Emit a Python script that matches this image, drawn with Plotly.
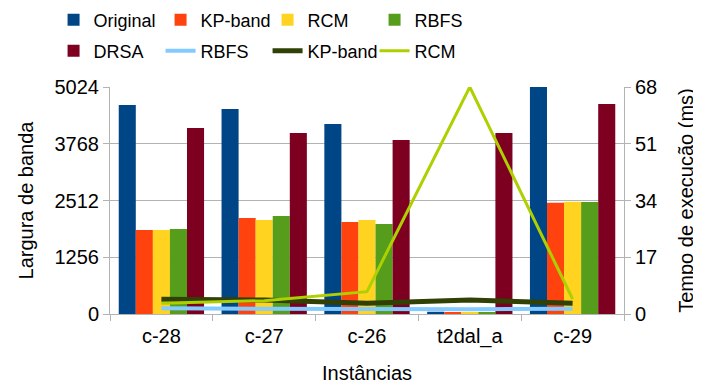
import plotly.graph_objects as go

categories = ["c-28", "c-27", "c-26", "t2dal_a", "c-29"]

bw_original = [4625, 4537, 4205, 50, 5024]
bw_kpband = [1859, 2124, 2036, 45, 2463]
bw_rcm = [1859, 2080, 2080, 45, 2485]
bw_rbfs = [1881, 2169, 1992, 45, 2478]
bw_drsa = [4116, 4006, 3851, 4006, 4647]

time_rbfs = [1.7, 1.6, 1.2, 1.4, 1.6]
time_kpband = [4.4, 4.2, 3.2, 4.2, 3.2]
time_rcm = [3.2, 4.0, 6.7, 68, 4.5]

y1_ticks = [0, 1256, 2512, 3768, 5024]
y2_ticks = [0, 17, 34, 51, 68]

FONT = "Liberation Sans, Arial, sans-serif"
fig = go.Figure()

bar_series = [
    ("Original", bw_original, "#004586", "legend"),
    ("KP-band", bw_kpband, "#ff420e", "legend"),
    ("RCM", bw_rcm, "#ffd320", "legend"),
    ("RBFS", bw_rbfs, "#579d1c", "legend"),
    ("DRSA", bw_drsa, "#7e0021", "legend2"),
]
for name, vals, col, lg in bar_series:
    fig.add_trace(go.Bar(x=categories, y=vals, name=name, marker=dict(color=col, line=dict(width=0)),
                         yaxis="y", legend=lg))

line_series = [
    ("RBFS", time_rbfs, "#83caff", 4),
    ("KP-band", time_kpband, "#314004", 5),
    ("RCM", time_rcm, "#aecf00", 3),
]
for name, vals, col, w in line_series:
    fig.add_trace(go.Scatter(x=categories, y=vals, name=name, mode="lines", line=dict(color=col, width=w),
                             yaxis="y2", legend="legend2"))

legend_common = dict(orientation="h", xref="container", yref="container", xanchor="left", yanchor="middle",
                     font=dict(size=18), entrywidth=62, entrywidthmode="pixels", traceorder="normal",
                     bgcolor="rgba(0,0,0,0)")

fig.update_layout(
    width=701, height=383,
    margin=dict(l=102, r=85, t=79, b=77, autoexpand=False),
    paper_bgcolor="white", plot_bgcolor="white",
    font=dict(family=FONT, size=20, color="#000000"),
    barmode="group", bargap=0.17, bargroupgap=0,
    showlegend=True,
    legend=dict(x=0.065, y=1 - 12 / 383, **legend_common),
    legend2=dict(x=0.065, y=1 - 43 / 383, **legend_common),
    xaxis=dict(title=dict(text="Instâncias", font=dict(size=20), standoff=18), showline=True, linecolor="#b3b3b3",
               ticks="outside", tickson="boundaries", ticklen=6, tickcolor="#b3b3b3", ticklabelstandoff=4,
               tickfont=dict(size=20), showgrid=False, automargin=False),
    yaxis=dict(title=dict(text="Largura de banda", font=dict(size=20)), range=[0, 5024], tickvals=y1_ticks,
               showline=True, linecolor="#b3b3b3", gridcolor="#b3b3b3", ticks="outside",
               ticklen=6, tickcolor="#b3b3b3", tickfont=dict(size=20), zeroline=False, automargin=False),
    yaxis2=dict(title=dict(text="Tempo de execução (ms)", font=dict(size=20), standoff=22), range=[0, 68],
                tickvals=y2_ticks, overlaying="y", side="right", showline=True, linecolor="#b3b3b3",
                showgrid=False, ticks="outside", ticklen=6, tickcolor="#b3b3b3", tickfont=dict(size=20),
                zeroline=False, automargin=False),
)

fig.write_html("out.html")
